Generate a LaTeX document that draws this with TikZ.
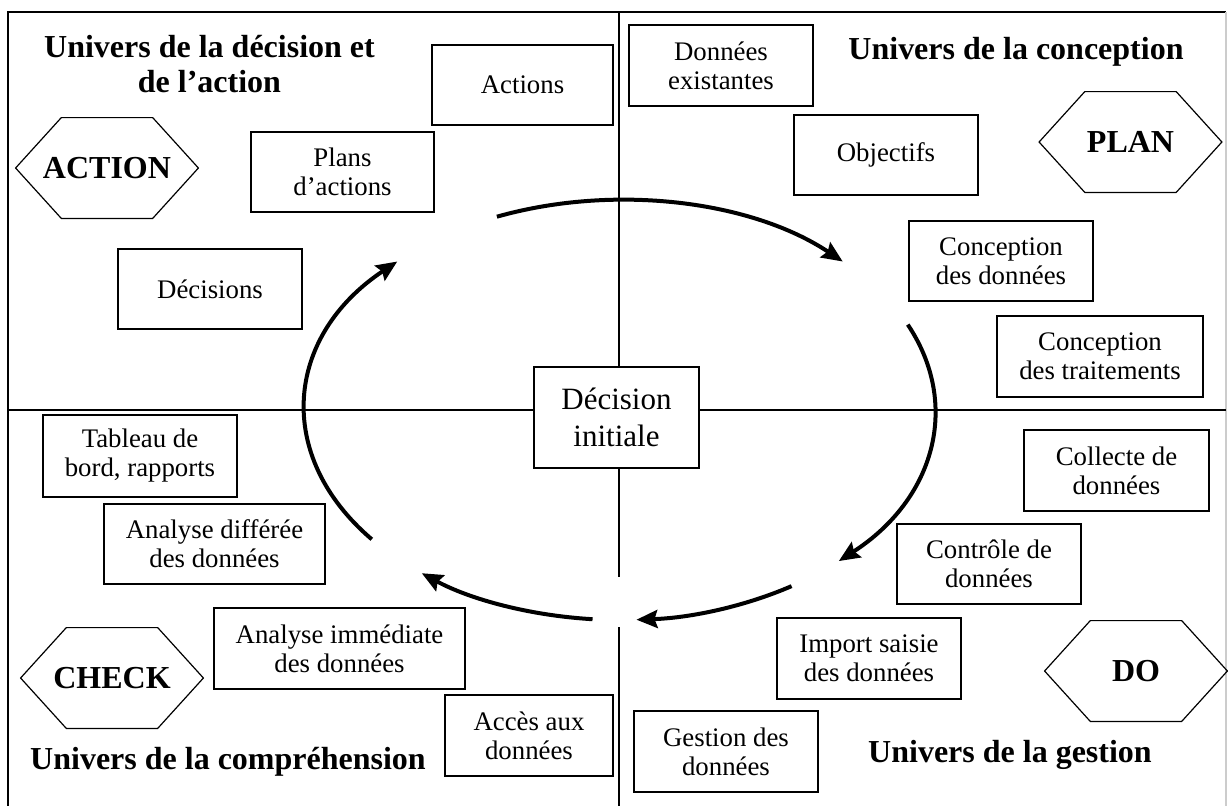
\documentclass[tikz,border=0pt]{standalone}
\usepackage{fontspec}
\setmainfont{Liberation Serif}
\usetikzlibrary{positioning, arrows.meta, calc}

\tikzset{
  boite/.style={draw, line width=0.6pt, minimum width=92pt, minimum height=40pt,
    align=center, inner sep=2pt, font=\fontsize{13.4}{14.5}\selectfont},
  hexa/.style={minimum width=91pt, minimum height=50pt, inner sep=0pt,
    font=\fontsize{16}{18}\selectfont\bfseries},
  titre/.style={align=center, font=\fontsize{16}{17.5}\selectfont\bfseries},
  boucle/.style={line width=2pt, -{Stealth[length=10.5pt, width=9pt, inset=1.5pt]}},
  trait/.style={line width=0.6pt},
}

\begin{document}
\begin{tikzpicture}[x=0.5pt, y=-0.5pt]
\useasboundingbox (0,0) rectangle (1228,805);

% cadre
\draw[trait] (8,806) -- (8,12) -- (1226,12);
\draw[trait, gray!40] (1226,12) -- (1226,806);

% decision initiale au centre
\node[boite, minimum width=82.5pt, minimum height=50.5pt,
  font=\fontsize{15.5}{18.5}\selectfont] (init) at (616.5,417.5) {Décision\\initiale};

% axes
\coordinate (hl) at (8,410);
\coordinate (hr) at (1226,410);
\coordinate (vt) at (619,12);
\coordinate (vb) at (619,806);
\draw[trait] (hl) -- (hl -| init.west);
\draw[trait] (init.east |- hr) -- (hr);
\draw[trait] (vt) -- (vt |- init.north);
\draw[trait] (vb |- init.south) -- (619,577);
\draw[trait] (619,627) -- (vb);

% titres
\node[titre] (tdec) at (209.5,64.5) {Univers de la décision et\\de l’action};
\node[titre] (tcon) at (1016,52) {Univers de la conception};
\node[titre] (tcom) at (228,762) {Univers de la compréhension};
\node[titre] (tges) at (1010,755) {Univers de la gestion};

% hexagones
\node[hexa] (hact) at (107,168) {ACTION};
\node[hexa] (hplan) at (1130.5,142) {PLAN};
\node[hexa] (hchk) at (112,678) {CHECK};
\node[hexa] (hdo) at (1136,671) {DO};
\foreach \h in {hact, hplan, hchk, hdo}{
  \draw[trait] (\h.west) -- ($(\h.north west)!0.25!(\h.north east)$)
    -- ($(\h.north west)!0.75!(\h.north east)$) -- (\h.east)
    -- ($(\h.south west)!0.75!(\h.south east)$)
    -- ($(\h.south west)!0.25!(\h.south east)$) -- cycle;
}

% univers de la decision et de l'action
\node[boite, minimum width=90.5pt] (actions) at (522.5,85) {Actions};
\node[boite, minimum width=91.5pt] (plans) at (342.5,172) {Plans\\d’actions};
\node[boite] (decis) at (210,289) {Décisions};

% univers de la conception
\node[boite, minimum height=40.5pt] (donex) at (721,65.5) {Données\\existantes};
\node[boite] (obj) at (886,155) {Objectifs};
\node[boite] (condon) at (1001,261) {Conception\\des données};
\node[boite, minimum width=103pt, minimum height=40.5pt] (contrait) at (1100,356.5) {Conception\\des traitements};

% univers de la comprehension
\node[boite, minimum width=97pt, minimum height=41pt] (tabl) at (140,456) {Tableau de\\bord, rapports};
\node[boite, minimum width=110.5pt] (anadiff) at (214.5,544) {Analyse différée\\des données};
\node[boite, minimum width=125.5pt, minimum height=40.5pt] (anaimm) at (339.5,648.5) {Analyse immédiate\\des données};
\node[boite, minimum width=84pt, minimum height=40.5pt] (acces) at (529,735.5) {Accès aux\\données};

% univers de la gestion
\node[boite, minimum width=92.5pt, minimum height=40.5pt] (coll) at (1116.5,470.5) {Collecte de\\données};
\node[boite] (ctrl) at (989,564) {Contrôle de\\données};
\node[boite, minimum height=40.5pt] (import) at (869,658.5) {Import saisie\\des données};
\node[boite, minimum height=40.5pt] (gest) at (726,751.5) {Gestion des\\données};

% cycle
\coordinate (c) at (620,410);
\draw[boucle] (c) ++(-113:315 and 210) arc[start angle=-113, end angle=-45, x radius=315, y radius=210];
\draw[boucle] (c) ++(-24:315 and 210) arc[start angle=-24, end angle=46, x radius=315, y radius=210];
\draw[boucle] (c) ++(57:315 and 210) arc[start angle=57, end angle=87, x radius=315, y radius=210];
\draw[boucle] (c) ++(95:315 and 210) arc[start angle=95, end angle=129, x radius=315, y radius=210];
\draw[boucle] (c) ++(142:315 and 210) arc[start angle=142, end angle=225, x radius=315, y radius=210];
\end{tikzpicture}
\end{document}
